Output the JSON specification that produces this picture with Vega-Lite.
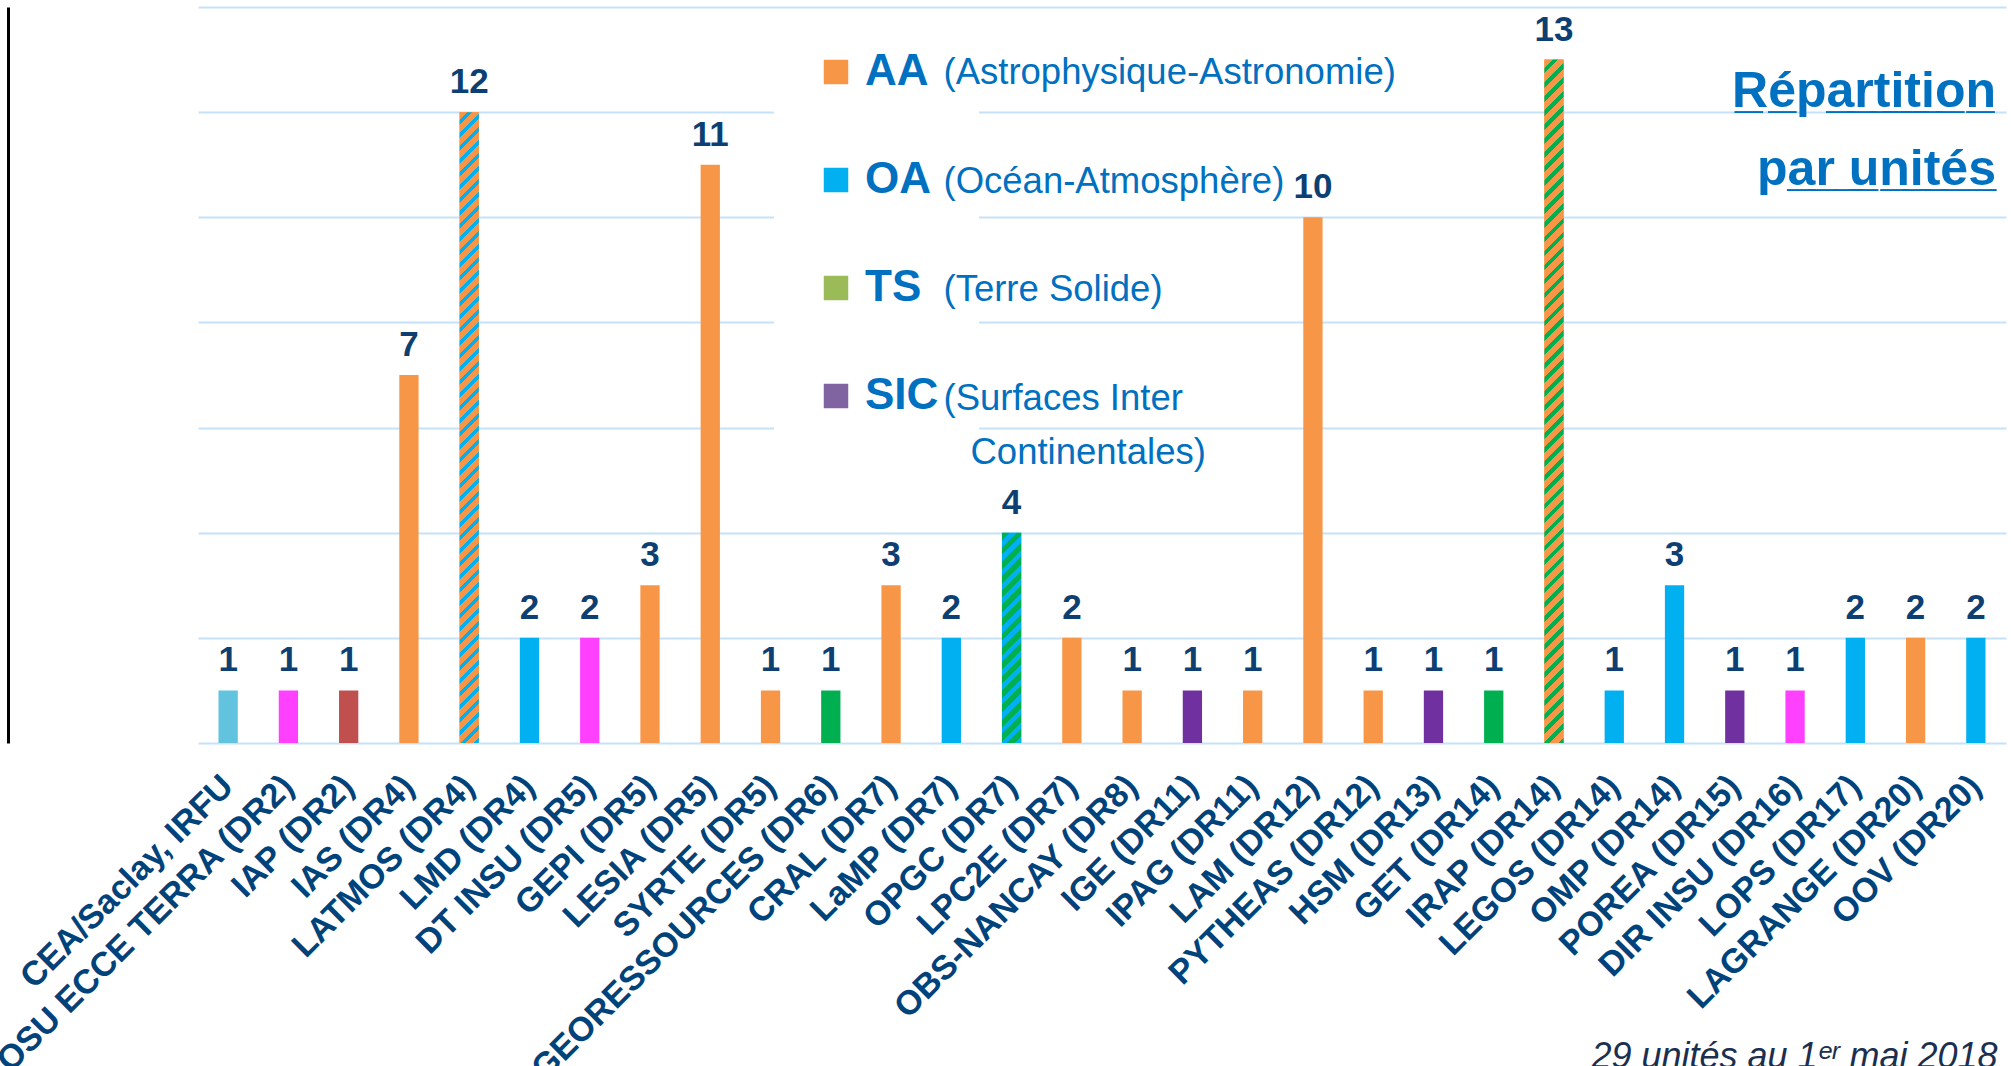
{
"$schema":"https://vega.github.io/schema/vega-lite/v6.json",
"width":1808,"height":736,
"autosize":{"type":"none"},
"padding":{"left":198,"top":7,"right":5,"bottom":323},
"background":"white",
"config":{"view":{"stroke":null},"style":{"guide-label":{"lineHeight":54}}},
"title":{"text":["R\u0332\u00e9\u0332pa\u0332r\u0332t\u0332i\u0332t\u0332i\u0332o\u0332n\u0332","pa\u0332r\u0332 \u0332u\u0332n\u0332i\u0332t\u0332\u00e9\u0332s\u0332"],"anchor":"end","orient":"top","frame":"group","offset":-188,"dx":-10,"font":"Liberation Sans","fontSize":50,"fontWeight":"bold","color":"#0070c0","lineHeight":78},
"datasets":{
"unites":[
{"unite":"CEA/Saclay, IRFU","n":1,"disc":"CEA"},
{"unite":"OSU ECCE TERRA (DR2)","n":1,"disc":"INSU"},
{"unite":"IAP (DR2)","n":1,"disc":"Autre"},
{"unite":"IAS (DR4)","n":7,"disc":"AA"},
{"unite":"LATMOS (DR4)","n":12,"disc":"AA/OA"},
{"unite":"LMD (DR4)","n":2,"disc":"OA"},
{"unite":"DT INSU (DR5)","n":2,"disc":"INSU"},
{"unite":"GEPI (DR5)","n":3,"disc":"AA"},
{"unite":"LESIA (DR5)","n":11,"disc":"AA"},
{"unite":"SYRTE (DR5)","n":1,"disc":"AA"},
{"unite":"GEORESSOURCES (DR6)","n":1,"disc":"TS"},
{"unite":"CRAL (DR7)","n":3,"disc":"AA"},
{"unite":"LaMP (DR7)","n":2,"disc":"OA"},
{"unite":"OPGC (DR7)","n":4,"disc":"TS/OA"},
{"unite":"LPC2E (DR7)","n":2,"disc":"AA"},
{"unite":"OBS-NANCAY (DR8)","n":1,"disc":"AA"},
{"unite":"IGE (DR11)","n":1,"disc":"SIC"},
{"unite":"IPAG (DR11)","n":1,"disc":"AA"},
{"unite":"LAM (DR12)","n":10,"disc":"AA"},
{"unite":"PYTHEAS (DR12)","n":1,"disc":"AA"},
{"unite":"HSM (DR13)","n":1,"disc":"SIC"},
{"unite":"GET (DR14)","n":1,"disc":"TS"},
{"unite":"IRAP (DR14)","n":13,"disc":"AA/TS"},
{"unite":"LEGOS (DR14)","n":1,"disc":"OA"},
{"unite":"OMP (DR14)","n":3,"disc":"OA"},
{"unite":"POREA (DR15)","n":1,"disc":"SIC"},
{"unite":"DIR INSU (DR16)","n":1,"disc":"INSU"},
{"unite":"LOPS (DR17)","n":2,"disc":"OA"},
{"unite":"LAGRANGE (DR20)","n":2,"disc":"AA"},
{"unite":"OOV (DR20)","n":2,"disc":"OA"}
],
"legende":[
{"code":"AA","desc":"(Astrophysique-Astronomie)"},
{"code":"OA","desc":"(Océan-Atmosphère)"},
{"code":"TS","desc":"(Terre Solide)"},
{"code":"SIC","desc":"(Surfaces Inter Continentales)"}
]
},
"layer":[
{"data":{"name":"unites"},
"mark":{"type":"bar"},
"encoding":{
"x":{"field":"unite","type":"nominal","sort":null,"scale":{"paddingInner":0.68,"paddingOuter":0.34},
"axis":{"title":"29 unités au 1\u1d49\u02b3 mai 2018","titleFont":"Liberation Sans","titleFontSize":36,"titleFontStyle":"italic","titleFontWeight":"normal","titleColor":"#1b2f50","titleX":1799,"titleY":324,"titleAlign":"right","titleBaseline":"alphabetic",
"labelAngle":-45,"labelAlign":"right","labelBaseline":"middle","labelFont":"Liberation Sans","labelFontSize":34,"labelFontWeight":"bold","labelColor":"#00427a","labelPadding":38,"labelLimit":1000,"labelOverlap":false,"ticks":false,"domain":false,"grid":false}},
"y":{"field":"n","type":"quantitative","scale":{"domain":[0,14],"nice":false},
"axis":{"title":null,"values":[0,2,4,6,8,10,12,14],"labels":false,"ticks":false,"domain":true,"domainColor":"#000000","domainWidth":3,"offset":190,"grid":true,"gridColor":"#c6e2fa","gridWidth":2}},
"color":{"field":"disc","type":"nominal","scale":{"domain":["AA","OA","TS","SIC","CEA","Autre","INSU","AA/OA","TS/OA","AA/TS"],"range":["#f79646","#00b0f0","#00b050","#7030a0","#62c3de","#c0504d","#ff40ff","#f79646","#00b0f0","#f79646"]},"legend":null}
}},
{"data":{"name":"unites"},
"transform":[{"filter":{"field":"unite","equal":"LATMOS (DR4)"}}],
"mark":{"type":"bar","fill":{"gradient":"linear","x1":0,"y1":0,"x2":0.0315,"y2":1.0296,"stops":[
{"offset":0,"color":"#f79646"},{"offset":0.012,"color":"#f79646"},{"offset":0.012,"color":"#00b0f0"},{"offset":0.02,"color":"#00b0f0"},
{"offset":0.02,"color":"#f79646"},{"offset":0.032,"color":"#f79646"},{"offset":0.032,"color":"#00b0f0"},{"offset":0.04,"color":"#00b0f0"},
{"offset":0.04,"color":"#f79646"},{"offset":0.052,"color":"#f79646"},{"offset":0.052,"color":"#00b0f0"},{"offset":0.06,"color":"#00b0f0"},
{"offset":0.06,"color":"#f79646"},{"offset":0.072,"color":"#f79646"},{"offset":0.072,"color":"#00b0f0"},{"offset":0.08,"color":"#00b0f0"},
{"offset":0.08,"color":"#f79646"},{"offset":0.092,"color":"#f79646"},{"offset":0.092,"color":"#00b0f0"},{"offset":0.1,"color":"#00b0f0"},
{"offset":0.1,"color":"#f79646"},{"offset":0.112,"color":"#f79646"},{"offset":0.112,"color":"#00b0f0"},{"offset":0.12,"color":"#00b0f0"},
{"offset":0.12,"color":"#f79646"},{"offset":0.132,"color":"#f79646"},{"offset":0.132,"color":"#00b0f0"},{"offset":0.14,"color":"#00b0f0"},
{"offset":0.14,"color":"#f79646"},{"offset":0.152,"color":"#f79646"},{"offset":0.152,"color":"#00b0f0"},{"offset":0.16,"color":"#00b0f0"},
{"offset":0.16,"color":"#f79646"},{"offset":0.172,"color":"#f79646"},{"offset":0.172,"color":"#00b0f0"},{"offset":0.18,"color":"#00b0f0"},
{"offset":0.18,"color":"#f79646"},{"offset":0.192,"color":"#f79646"},{"offset":0.192,"color":"#00b0f0"},{"offset":0.2,"color":"#00b0f0"},
{"offset":0.2,"color":"#f79646"},{"offset":0.212,"color":"#f79646"},{"offset":0.212,"color":"#00b0f0"},{"offset":0.22,"color":"#00b0f0"},
{"offset":0.22,"color":"#f79646"},{"offset":0.232,"color":"#f79646"},{"offset":0.232,"color":"#00b0f0"},{"offset":0.24,"color":"#00b0f0"},
{"offset":0.24,"color":"#f79646"},{"offset":0.252,"color":"#f79646"},{"offset":0.252,"color":"#00b0f0"},{"offset":0.26,"color":"#00b0f0"},
{"offset":0.26,"color":"#f79646"},{"offset":0.272,"color":"#f79646"},{"offset":0.272,"color":"#00b0f0"},{"offset":0.28,"color":"#00b0f0"},
{"offset":0.28,"color":"#f79646"},{"offset":0.292,"color":"#f79646"},{"offset":0.292,"color":"#00b0f0"},{"offset":0.3,"color":"#00b0f0"},
{"offset":0.3,"color":"#f79646"},{"offset":0.312,"color":"#f79646"},{"offset":0.312,"color":"#00b0f0"},{"offset":0.32,"color":"#00b0f0"},
{"offset":0.32,"color":"#f79646"},{"offset":0.332,"color":"#f79646"},{"offset":0.332,"color":"#00b0f0"},{"offset":0.34,"color":"#00b0f0"},
{"offset":0.34,"color":"#f79646"},{"offset":0.352,"color":"#f79646"},{"offset":0.352,"color":"#00b0f0"},{"offset":0.36,"color":"#00b0f0"},
{"offset":0.36,"color":"#f79646"},{"offset":0.372,"color":"#f79646"},{"offset":0.372,"color":"#00b0f0"},{"offset":0.38,"color":"#00b0f0"},
{"offset":0.38,"color":"#f79646"},{"offset":0.392,"color":"#f79646"},{"offset":0.392,"color":"#00b0f0"},{"offset":0.4,"color":"#00b0f0"},
{"offset":0.4,"color":"#f79646"},{"offset":0.412,"color":"#f79646"},{"offset":0.412,"color":"#00b0f0"},{"offset":0.42,"color":"#00b0f0"},
{"offset":0.42,"color":"#f79646"},{"offset":0.432,"color":"#f79646"},{"offset":0.432,"color":"#00b0f0"},{"offset":0.44,"color":"#00b0f0"},
{"offset":0.44,"color":"#f79646"},{"offset":0.452,"color":"#f79646"},{"offset":0.452,"color":"#00b0f0"},{"offset":0.46,"color":"#00b0f0"},
{"offset":0.46,"color":"#f79646"},{"offset":0.472,"color":"#f79646"},{"offset":0.472,"color":"#00b0f0"},{"offset":0.48,"color":"#00b0f0"},
{"offset":0.48,"color":"#f79646"},{"offset":0.492,"color":"#f79646"},{"offset":0.492,"color":"#00b0f0"},{"offset":0.5,"color":"#00b0f0"},
{"offset":0.5,"color":"#f79646"},{"offset":0.512,"color":"#f79646"},{"offset":0.512,"color":"#00b0f0"},{"offset":0.52,"color":"#00b0f0"},
{"offset":0.52,"color":"#f79646"},{"offset":0.532,"color":"#f79646"},{"offset":0.532,"color":"#00b0f0"},{"offset":0.54,"color":"#00b0f0"},
{"offset":0.54,"color":"#f79646"},{"offset":0.552,"color":"#f79646"},{"offset":0.552,"color":"#00b0f0"},{"offset":0.56,"color":"#00b0f0"},
{"offset":0.56,"color":"#f79646"},{"offset":0.572,"color":"#f79646"},{"offset":0.572,"color":"#00b0f0"},{"offset":0.58,"color":"#00b0f0"},
{"offset":0.58,"color":"#f79646"},{"offset":0.592,"color":"#f79646"},{"offset":0.592,"color":"#00b0f0"},{"offset":0.6,"color":"#00b0f0"},
{"offset":0.6,"color":"#f79646"},{"offset":0.612,"color":"#f79646"},{"offset":0.612,"color":"#00b0f0"},{"offset":0.62,"color":"#00b0f0"},
{"offset":0.62,"color":"#f79646"},{"offset":0.632,"color":"#f79646"},{"offset":0.632,"color":"#00b0f0"},{"offset":0.64,"color":"#00b0f0"},
{"offset":0.64,"color":"#f79646"},{"offset":0.652,"color":"#f79646"},{"offset":0.652,"color":"#00b0f0"},{"offset":0.66,"color":"#00b0f0"},
{"offset":0.66,"color":"#f79646"},{"offset":0.672,"color":"#f79646"},{"offset":0.672,"color":"#00b0f0"},{"offset":0.68,"color":"#00b0f0"},
{"offset":0.68,"color":"#f79646"},{"offset":0.692,"color":"#f79646"},{"offset":0.692,"color":"#00b0f0"},{"offset":0.7,"color":"#00b0f0"},
{"offset":0.7,"color":"#f79646"},{"offset":0.712,"color":"#f79646"},{"offset":0.712,"color":"#00b0f0"},{"offset":0.72,"color":"#00b0f0"},
{"offset":0.72,"color":"#f79646"},{"offset":0.732,"color":"#f79646"},{"offset":0.732,"color":"#00b0f0"},{"offset":0.74,"color":"#00b0f0"},
{"offset":0.74,"color":"#f79646"},{"offset":0.752,"color":"#f79646"},{"offset":0.752,"color":"#00b0f0"},{"offset":0.76,"color":"#00b0f0"},
{"offset":0.76,"color":"#f79646"},{"offset":0.772,"color":"#f79646"},{"offset":0.772,"color":"#00b0f0"},{"offset":0.78,"color":"#00b0f0"},
{"offset":0.78,"color":"#f79646"},{"offset":0.792,"color":"#f79646"},{"offset":0.792,"color":"#00b0f0"},{"offset":0.8,"color":"#00b0f0"},
{"offset":0.8,"color":"#f79646"},{"offset":0.812,"color":"#f79646"},{"offset":0.812,"color":"#00b0f0"},{"offset":0.82,"color":"#00b0f0"},
{"offset":0.82,"color":"#f79646"},{"offset":0.832,"color":"#f79646"},{"offset":0.832,"color":"#00b0f0"},{"offset":0.84,"color":"#00b0f0"},
{"offset":0.84,"color":"#f79646"},{"offset":0.852,"color":"#f79646"},{"offset":0.852,"color":"#00b0f0"},{"offset":0.86,"color":"#00b0f0"},
{"offset":0.86,"color":"#f79646"},{"offset":0.872,"color":"#f79646"},{"offset":0.872,"color":"#00b0f0"},{"offset":0.88,"color":"#00b0f0"},
{"offset":0.88,"color":"#f79646"},{"offset":0.892,"color":"#f79646"},{"offset":0.892,"color":"#00b0f0"},{"offset":0.9,"color":"#00b0f0"},
{"offset":0.9,"color":"#f79646"},{"offset":0.912,"color":"#f79646"},{"offset":0.912,"color":"#00b0f0"},{"offset":0.92,"color":"#00b0f0"},
{"offset":0.92,"color":"#f79646"},{"offset":0.932,"color":"#f79646"},{"offset":0.932,"color":"#00b0f0"},{"offset":0.94,"color":"#00b0f0"},
{"offset":0.94,"color":"#f79646"},{"offset":0.952,"color":"#f79646"},{"offset":0.952,"color":"#00b0f0"},{"offset":0.96,"color":"#00b0f0"},
{"offset":0.96,"color":"#f79646"},{"offset":0.972,"color":"#f79646"},{"offset":0.972,"color":"#00b0f0"},{"offset":0.98,"color":"#00b0f0"},
{"offset":0.98,"color":"#f79646"},{"offset":0.992,"color":"#f79646"},{"offset":0.992,"color":"#00b0f0"},{"offset":1,"color":"#00b0f0"}
]}},
"encoding":{"x":{"field":"unite","type":"nominal","sort":null},"y":{"field":"n","type":"quantitative"}}},
{"data":{"name":"unites"},
"transform":[{"filter":{"field":"unite","equal":"OPGC (DR7)"}}],
"mark":{"type":"bar","fill":{"gradient":"linear","x1":0,"y1":0,"x2":0.0993,"y2":1.0826,"stops":[
{"offset":0,"color":"#00b050"},{"offset":0.034,"color":"#00b050"},{"offset":0.034,"color":"#00b0f0"},{"offset":0.0625,"color":"#00b0f0"},
{"offset":0.0625,"color":"#00b050"},{"offset":0.0965,"color":"#00b050"},{"offset":0.0965,"color":"#00b0f0"},{"offset":0.125,"color":"#00b0f0"},
{"offset":0.125,"color":"#00b050"},{"offset":0.159,"color":"#00b050"},{"offset":0.159,"color":"#00b0f0"},{"offset":0.1875,"color":"#00b0f0"},
{"offset":0.1875,"color":"#00b050"},{"offset":0.2215,"color":"#00b050"},{"offset":0.2215,"color":"#00b0f0"},{"offset":0.25,"color":"#00b0f0"},
{"offset":0.25,"color":"#00b050"},{"offset":0.284,"color":"#00b050"},{"offset":0.284,"color":"#00b0f0"},{"offset":0.3125,"color":"#00b0f0"},
{"offset":0.3125,"color":"#00b050"},{"offset":0.3465,"color":"#00b050"},{"offset":0.3465,"color":"#00b0f0"},{"offset":0.375,"color":"#00b0f0"},
{"offset":0.375,"color":"#00b050"},{"offset":0.409,"color":"#00b050"},{"offset":0.409,"color":"#00b0f0"},{"offset":0.4375,"color":"#00b0f0"},
{"offset":0.4375,"color":"#00b050"},{"offset":0.4715,"color":"#00b050"},{"offset":0.4715,"color":"#00b0f0"},{"offset":0.5,"color":"#00b0f0"},
{"offset":0.5,"color":"#00b050"},{"offset":0.534,"color":"#00b050"},{"offset":0.534,"color":"#00b0f0"},{"offset":0.5625,"color":"#00b0f0"},
{"offset":0.5625,"color":"#00b050"},{"offset":0.5965,"color":"#00b050"},{"offset":0.5965,"color":"#00b0f0"},{"offset":0.625,"color":"#00b0f0"},
{"offset":0.625,"color":"#00b050"},{"offset":0.659,"color":"#00b050"},{"offset":0.659,"color":"#00b0f0"},{"offset":0.6875,"color":"#00b0f0"},
{"offset":0.6875,"color":"#00b050"},{"offset":0.7215,"color":"#00b050"},{"offset":0.7215,"color":"#00b0f0"},{"offset":0.75,"color":"#00b0f0"},
{"offset":0.75,"color":"#00b050"},{"offset":0.784,"color":"#00b050"},{"offset":0.784,"color":"#00b0f0"},{"offset":0.8125,"color":"#00b0f0"},
{"offset":0.8125,"color":"#00b050"},{"offset":0.8465,"color":"#00b050"},{"offset":0.8465,"color":"#00b0f0"},{"offset":0.875,"color":"#00b0f0"},
{"offset":0.875,"color":"#00b050"},{"offset":0.909,"color":"#00b050"},{"offset":0.909,"color":"#00b0f0"},{"offset":0.9375,"color":"#00b0f0"},
{"offset":0.9375,"color":"#00b050"},{"offset":0.9715,"color":"#00b050"},{"offset":0.9715,"color":"#00b0f0"},{"offset":1,"color":"#00b0f0"}
]}},
"encoding":{"x":{"field":"unite","type":"nominal","sort":null},"y":{"field":"n","type":"quantitative"}}},
{"data":{"name":"unites"},
"transform":[{"filter":{"field":"unite","equal":"IRAP (DR14)"}}],
"mark":{"type":"bar","fill":{"gradient":"linear","x1":0,"y1":0,"x2":0.029,"y2":1.0274,"stops":[
{"offset":0,"color":"#f79646"},{"offset":0.012,"color":"#f79646"},{"offset":0.012,"color":"#00b050"},{"offset":0.02,"color":"#00b050"},
{"offset":0.02,"color":"#f79646"},{"offset":0.032,"color":"#f79646"},{"offset":0.032,"color":"#00b050"},{"offset":0.04,"color":"#00b050"},
{"offset":0.04,"color":"#f79646"},{"offset":0.052,"color":"#f79646"},{"offset":0.052,"color":"#00b050"},{"offset":0.06,"color":"#00b050"},
{"offset":0.06,"color":"#f79646"},{"offset":0.072,"color":"#f79646"},{"offset":0.072,"color":"#00b050"},{"offset":0.08,"color":"#00b050"},
{"offset":0.08,"color":"#f79646"},{"offset":0.092,"color":"#f79646"},{"offset":0.092,"color":"#00b050"},{"offset":0.1,"color":"#00b050"},
{"offset":0.1,"color":"#f79646"},{"offset":0.112,"color":"#f79646"},{"offset":0.112,"color":"#00b050"},{"offset":0.12,"color":"#00b050"},
{"offset":0.12,"color":"#f79646"},{"offset":0.132,"color":"#f79646"},{"offset":0.132,"color":"#00b050"},{"offset":0.14,"color":"#00b050"},
{"offset":0.14,"color":"#f79646"},{"offset":0.152,"color":"#f79646"},{"offset":0.152,"color":"#00b050"},{"offset":0.16,"color":"#00b050"},
{"offset":0.16,"color":"#f79646"},{"offset":0.172,"color":"#f79646"},{"offset":0.172,"color":"#00b050"},{"offset":0.18,"color":"#00b050"},
{"offset":0.18,"color":"#f79646"},{"offset":0.192,"color":"#f79646"},{"offset":0.192,"color":"#00b050"},{"offset":0.2,"color":"#00b050"},
{"offset":0.2,"color":"#f79646"},{"offset":0.212,"color":"#f79646"},{"offset":0.212,"color":"#00b050"},{"offset":0.22,"color":"#00b050"},
{"offset":0.22,"color":"#f79646"},{"offset":0.232,"color":"#f79646"},{"offset":0.232,"color":"#00b050"},{"offset":0.24,"color":"#00b050"},
{"offset":0.24,"color":"#f79646"},{"offset":0.252,"color":"#f79646"},{"offset":0.252,"color":"#00b050"},{"offset":0.26,"color":"#00b050"},
{"offset":0.26,"color":"#f79646"},{"offset":0.272,"color":"#f79646"},{"offset":0.272,"color":"#00b050"},{"offset":0.28,"color":"#00b050"},
{"offset":0.28,"color":"#f79646"},{"offset":0.292,"color":"#f79646"},{"offset":0.292,"color":"#00b050"},{"offset":0.3,"color":"#00b050"},
{"offset":0.3,"color":"#f79646"},{"offset":0.312,"color":"#f79646"},{"offset":0.312,"color":"#00b050"},{"offset":0.32,"color":"#00b050"},
{"offset":0.32,"color":"#f79646"},{"offset":0.332,"color":"#f79646"},{"offset":0.332,"color":"#00b050"},{"offset":0.34,"color":"#00b050"},
{"offset":0.34,"color":"#f79646"},{"offset":0.352,"color":"#f79646"},{"offset":0.352,"color":"#00b050"},{"offset":0.36,"color":"#00b050"},
{"offset":0.36,"color":"#f79646"},{"offset":0.372,"color":"#f79646"},{"offset":0.372,"color":"#00b050"},{"offset":0.38,"color":"#00b050"},
{"offset":0.38,"color":"#f79646"},{"offset":0.392,"color":"#f79646"},{"offset":0.392,"color":"#00b050"},{"offset":0.4,"color":"#00b050"},
{"offset":0.4,"color":"#f79646"},{"offset":0.412,"color":"#f79646"},{"offset":0.412,"color":"#00b050"},{"offset":0.42,"color":"#00b050"},
{"offset":0.42,"color":"#f79646"},{"offset":0.432,"color":"#f79646"},{"offset":0.432,"color":"#00b050"},{"offset":0.44,"color":"#00b050"},
{"offset":0.44,"color":"#f79646"},{"offset":0.452,"color":"#f79646"},{"offset":0.452,"color":"#00b050"},{"offset":0.46,"color":"#00b050"},
{"offset":0.46,"color":"#f79646"},{"offset":0.472,"color":"#f79646"},{"offset":0.472,"color":"#00b050"},{"offset":0.48,"color":"#00b050"},
{"offset":0.48,"color":"#f79646"},{"offset":0.492,"color":"#f79646"},{"offset":0.492,"color":"#00b050"},{"offset":0.5,"color":"#00b050"},
{"offset":0.5,"color":"#f79646"},{"offset":0.512,"color":"#f79646"},{"offset":0.512,"color":"#00b050"},{"offset":0.52,"color":"#00b050"},
{"offset":0.52,"color":"#f79646"},{"offset":0.532,"color":"#f79646"},{"offset":0.532,"color":"#00b050"},{"offset":0.54,"color":"#00b050"},
{"offset":0.54,"color":"#f79646"},{"offset":0.552,"color":"#f79646"},{"offset":0.552,"color":"#00b050"},{"offset":0.56,"color":"#00b050"},
{"offset":0.56,"color":"#f79646"},{"offset":0.572,"color":"#f79646"},{"offset":0.572,"color":"#00b050"},{"offset":0.58,"color":"#00b050"},
{"offset":0.58,"color":"#f79646"},{"offset":0.592,"color":"#f79646"},{"offset":0.592,"color":"#00b050"},{"offset":0.6,"color":"#00b050"},
{"offset":0.6,"color":"#f79646"},{"offset":0.612,"color":"#f79646"},{"offset":0.612,"color":"#00b050"},{"offset":0.62,"color":"#00b050"},
{"offset":0.62,"color":"#f79646"},{"offset":0.632,"color":"#f79646"},{"offset":0.632,"color":"#00b050"},{"offset":0.64,"color":"#00b050"},
{"offset":0.64,"color":"#f79646"},{"offset":0.652,"color":"#f79646"},{"offset":0.652,"color":"#00b050"},{"offset":0.66,"color":"#00b050"},
{"offset":0.66,"color":"#f79646"},{"offset":0.672,"color":"#f79646"},{"offset":0.672,"color":"#00b050"},{"offset":0.68,"color":"#00b050"},
{"offset":0.68,"color":"#f79646"},{"offset":0.692,"color":"#f79646"},{"offset":0.692,"color":"#00b050"},{"offset":0.7,"color":"#00b050"},
{"offset":0.7,"color":"#f79646"},{"offset":0.712,"color":"#f79646"},{"offset":0.712,"color":"#00b050"},{"offset":0.72,"color":"#00b050"},
{"offset":0.72,"color":"#f79646"},{"offset":0.732,"color":"#f79646"},{"offset":0.732,"color":"#00b050"},{"offset":0.74,"color":"#00b050"},
{"offset":0.74,"color":"#f79646"},{"offset":0.752,"color":"#f79646"},{"offset":0.752,"color":"#00b050"},{"offset":0.76,"color":"#00b050"},
{"offset":0.76,"color":"#f79646"},{"offset":0.772,"color":"#f79646"},{"offset":0.772,"color":"#00b050"},{"offset":0.78,"color":"#00b050"},
{"offset":0.78,"color":"#f79646"},{"offset":0.792,"color":"#f79646"},{"offset":0.792,"color":"#00b050"},{"offset":0.8,"color":"#00b050"},
{"offset":0.8,"color":"#f79646"},{"offset":0.812,"color":"#f79646"},{"offset":0.812,"color":"#00b050"},{"offset":0.82,"color":"#00b050"},
{"offset":0.82,"color":"#f79646"},{"offset":0.832,"color":"#f79646"},{"offset":0.832,"color":"#00b050"},{"offset":0.84,"color":"#00b050"},
{"offset":0.84,"color":"#f79646"},{"offset":0.852,"color":"#f79646"},{"offset":0.852,"color":"#00b050"},{"offset":0.86,"color":"#00b050"},
{"offset":0.86,"color":"#f79646"},{"offset":0.872,"color":"#f79646"},{"offset":0.872,"color":"#00b050"},{"offset":0.88,"color":"#00b050"},
{"offset":0.88,"color":"#f79646"},{"offset":0.892,"color":"#f79646"},{"offset":0.892,"color":"#00b050"},{"offset":0.9,"color":"#00b050"},
{"offset":0.9,"color":"#f79646"},{"offset":0.912,"color":"#f79646"},{"offset":0.912,"color":"#00b050"},{"offset":0.92,"color":"#00b050"},
{"offset":0.92,"color":"#f79646"},{"offset":0.932,"color":"#f79646"},{"offset":0.932,"color":"#00b050"},{"offset":0.94,"color":"#00b050"},
{"offset":0.94,"color":"#f79646"},{"offset":0.952,"color":"#f79646"},{"offset":0.952,"color":"#00b050"},{"offset":0.96,"color":"#00b050"},
{"offset":0.96,"color":"#f79646"},{"offset":0.972,"color":"#f79646"},{"offset":0.972,"color":"#00b050"},{"offset":0.98,"color":"#00b050"},
{"offset":0.98,"color":"#f79646"},{"offset":0.992,"color":"#f79646"},{"offset":0.992,"color":"#00b050"},{"offset":1,"color":"#00b050"}
]}},
"encoding":{"x":{"field":"unite","type":"nominal","sort":null},"y":{"field":"n","type":"quantitative"}}},
{"data":{"name":"unites"},
"mark":{"type":"text","font":"Liberation Sans","fontSize":35,"fontWeight":"bold","color":"#0d3f72","baseline":"alphabetic","dy":-19},
"encoding":{"x":{"field":"unite","type":"nominal","sort":null},"y":{"field":"n","type":"quantitative"},"text":{"field":"n","type":"quantitative"}}},
{"data":{"name":"legende"},
"mark":{"type":"point","filled":true,"opacity":0},
"encoding":{
"fill":{"field":"code","type":"nominal","scale":{"domain":["AA","OA","TS","SIC"],"range":["#f79646","#00b0f0","#9bbb59","#8064a2"]},
"legend":{"title":null,"orient":"none","legendX":576,"legendY":3,"zindex":1,"symbolType":"square","symbolSize":600,"symbolStrokeWidth":0,"symbolOpacity":1,"labelFont":"Liberation Sans","labelFontSize":44,"labelFontWeight":"bold","labelColor":"#0070c0","labelOffset":7,"rowPadding":64,"padding":40,"fillColor":"#ffffff","labelLimit":400}},
"shape":{"field":"desc","type":"nominal","scale":{"domain":["(Astrophysique-Astronomie)","(Océan-Atmosphère)","(Terre Solide)","(Surfaces Inter Continentales)"],"range":["square","square","square","square"]},
"legend":{"title":null,"orient":"none","legendX":709,"legendY":59,"zindex":2,"symbolSize":1,"symbolOpacity":0,"symbolStrokeWidth":0,"labelFont":"Liberation Sans","labelFontSize":36.5,"labelColor":"#0070c0","labelOffset":0,"labelBaseline":"alphabetic","rowPadding":71.5,"padding":0,"labelLimit":700,"labelExpr":"datum.label == '(Surfaces Inter Continentales)' ? ['(Surfaces Inter', '\u2800Continentales)'] : datum.label",
"encode":{"labels":{"update":{"lineHeight":{"value":54}}}}}}
}}
]
}
